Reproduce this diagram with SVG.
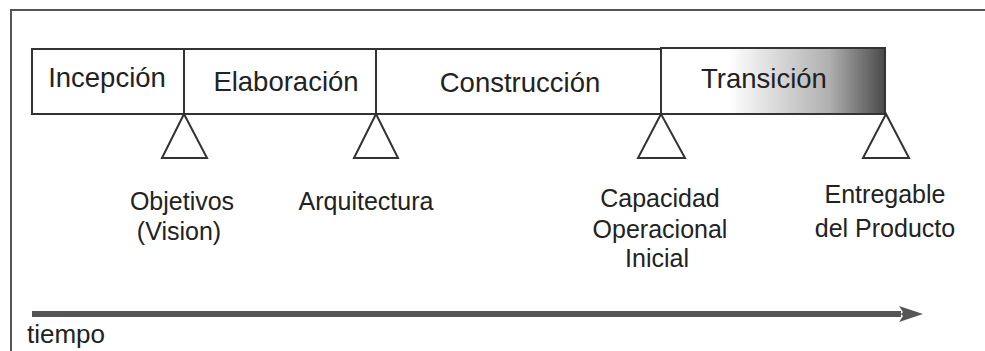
<svg xmlns="http://www.w3.org/2000/svg" width="985" height="351" viewBox="0 0 985 351">
<style>
.phase{fill:none;stroke:#333;stroke-width:2}
.t{font-family:"Liberation Sans",Arial,sans-serif;fill:#222;text-anchor:middle}
.big{font-size:27.5px}
.sm{font-size:25px}
.tri{fill:#fff;stroke:#333;stroke-width:2;stroke-linejoin:miter}
.frame{fill:none;stroke:#555;stroke-width:2}
</style>
<defs>
<linearGradient id="fade" x1="661" y1="0" x2="885" y2="0" gradientUnits="userSpaceOnUse">
<stop offset="0" stop-color="#fff"/>
<stop offset="0.3" stop-color="#fff"/>
<stop offset="0.75" stop-color="#b0b0b0"/>
<stop offset="1" stop-color="#4a4a4a"/>
</linearGradient>
<marker id="head" viewBox="0 0 24 18" refX="2" refY="9" markerWidth="24" markerHeight="18" markerUnits="userSpaceOnUse" orient="auto">
<path d="M0,1 L4,7 L2,9 L4,11 L0,17 L24,9 Z" fill="#555"/>
</marker>
</defs>
<rect width="985" height="351" fill="#fff"/>
<path class="frame" d="M11,351 V10 H985"/>
<g id="incepcion">
<rect class="phase" x="32" y="49" width="152" height="65" fill="#fff"/>
<text class="t big" x="107" y="87">Incepción</text>
</g>
<g id="elaboracion">
<rect class="phase" x="184" y="49" width="192" height="65" fill="#fff"/>
<text class="t big" x="286" y="91">Elaboración</text>
</g>
<g id="construccion">
<rect class="phase" x="376" y="49" width="285" height="65" fill="#fff"/>
<text class="t big" x="520" y="92">Construcción</text>
</g>
<g id="transicion">
<rect x="661" y="48" width="224" height="66" fill="url(#fade)" stroke="#333" stroke-width="2"/>
<text class="t big" x="764" y="88">Transición</text>
</g>
<g id="hito-objetivos">
<polygon class="tri" points="184,114 162,158 207,158"/>
<text class="t sm" x="182" y="210">Objetivos</text>
<text class="t sm" x="179" y="240">(Vision)</text>
</g>
<g id="hito-arquitectura">
<polygon class="tri" points="376,114 354,158 398,158"/>
<text class="t sm" x="366" y="210">Arquitectura</text>
</g>
<g id="hito-capacidad">
<polygon class="tri" points="661,114 638,158 685,158"/>
<text class="t sm" x="660" y="207">Capacidad</text>
<text class="t sm" x="660" y="238">Operacional</text>
<text class="t sm" x="657" y="267">Inicial</text>
</g>
<g id="hito-entregable">
<polygon class="tri" points="886,114 863,158 909,158"/>
<text class="t sm" x="885" y="203">Entregable</text>
<text class="t sm" x="885" y="237">del Producto</text>
</g>
<g id="connectors">
<line x1="32" y1="314" x2="901" y2="314" stroke="#555" stroke-width="6" marker-end="url(#head)"/>
</g>
<g id="tiempo">
<text class="t" x="27" y="343" style="font-size:26px;text-anchor:start">tiempo</text>
</g>
</svg>
